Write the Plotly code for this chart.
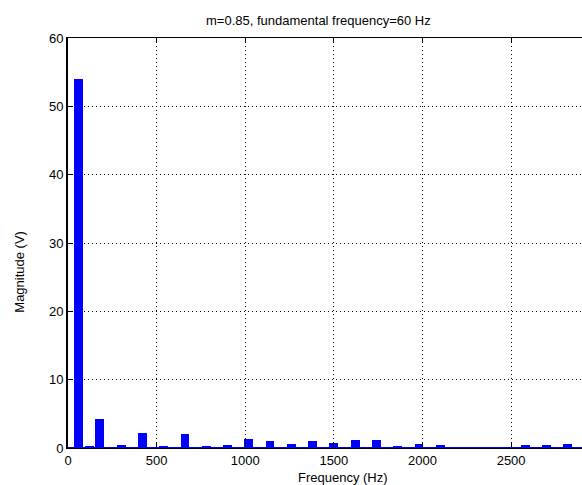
import plotly.graph_objects as go

# Harmonic spectrum of the output voltage
fundamental_hz = 60
harmonic_order = list(range(1, 49))
frequency_hz = [fundamental_hz * n for n in harmonic_order]
magnitude_v = [
    54.0, 0.3, 4.3, 0.05, 0.5, 0.05, 2.2, 0.05, 0.3, 0.05,
    2.05, 0.05, 0.35, 0.05, 0.5, 0.05, 1.3, 0.05, 1.0, 0.05,
    0.65, 0.05, 1.0, 0.05, 0.8, 0.05, 1.2, 0.05, 1.2, 0.05,
    0.35, 0.05, 0.6, 0.05, 0.5, 0.05, 0.1, 0.05, 0.1, 0.05,
    0.1, 0.05, 0.5, 0.05, 0.5, 0.05, 0.6, 0.05,
]

x_ticks = [0, 500, 1000, 1500, 2000, 2500]
y_ticks = [0, 10, 20, 30, 40, 50, 60]

FONT = "Liberation Sans, Arial, sans-serif"
BLUE = "#0000ff"

fig = go.Figure()
fig.add_trace(go.Bar(
    x=frequency_hz,
    y=magnitude_v,
    width=50,
    marker=dict(color=BLUE, line=dict(width=0)),
    showlegend=False,
))

# bar baseline
fig.add_shape(type="line", xref="paper", yref="y", x0=0, x1=1, y0=0, y1=0,
              line=dict(color=BLUE, width=2), layer="above")

fig.update_layout(
    width=582, height=485,
    margin=dict(l=68, r=0, t=38, b=37),
    paper_bgcolor="white", plot_bgcolor="white",
    font=dict(family=FONT, size=13, color="black"),
    bargap=0,
    xaxis=dict(
        range=[0, 2900], tickvals=x_ticks, ticktext=[str(v) for v in x_ticks],
        showline=True, linecolor="black", linewidth=1, mirror="ticks",
        ticks="inside", ticklen=5, tickcolor="black",
        showgrid=True, gridcolor="black", gridwidth=1, griddash="1px,3px",
        zeroline=False, tickfont=dict(size=13),
    ),
    yaxis=dict(
        range=[0, 60], tickvals=y_ticks, ticktext=[str(v) for v in y_ticks],
        showline=True, linecolor="black", linewidth=2,
        ticks="inside", ticklen=5, tickcolor="black",
        showgrid=True, gridcolor="black", gridwidth=1, griddash="1px,3px",
        zeroline=False, tickfont=dict(size=13),
    ),
    annotations=[
        dict(text="m=0.85, fundamental frequency=60 Hz", xref="paper", yref="paper",
             x=0.488, y=1, yshift=18, showarrow=False, font=dict(size=13),
             xanchor="center", yanchor="middle"),
        dict(text="Frequency (Hz)", xref="paper", yref="paper",
             x=0.535, y=0, yshift=-29, showarrow=False, font=dict(size=13),
             xanchor="center", yanchor="middle"),
        dict(text="Magnitude (V)", xref="paper", yref="paper",
             x=0, xshift=-48, y=0.43, textangle=-90, showarrow=False,
             font=dict(size=13), xanchor="center", yanchor="middle"),
    ],
)

fig.write_html("out.html")
